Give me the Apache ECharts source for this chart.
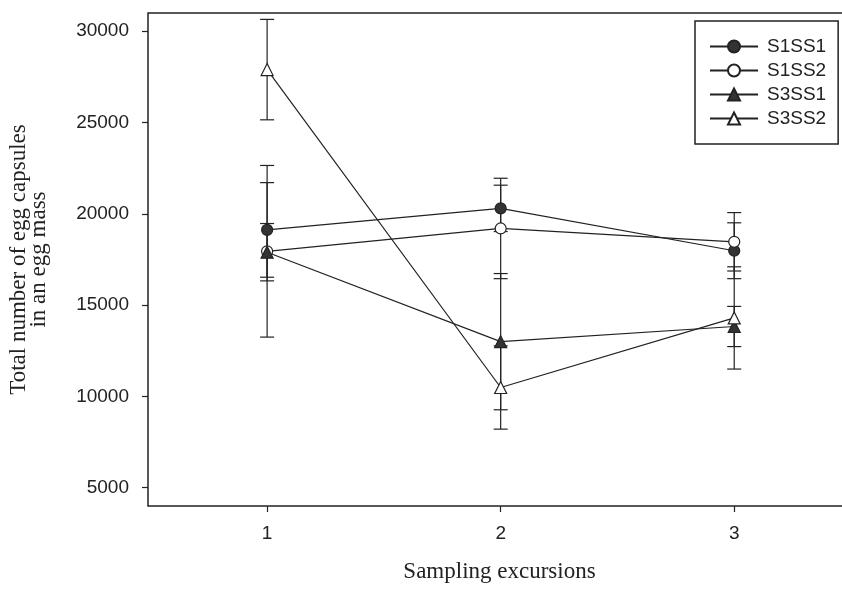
<!DOCTYPE html>
<html><head><meta charset="utf-8">
<script src="https://cdn.jsdelivr.net/npm/echarts@6/dist/echarts.min.js"></script>
<style>html,body{margin:0;padding:0;background:#fff}#c{width:842px;height:589px}</style>
</head><body><div id="c"></div>
<script>
// ---- data ----
const excursions = [1, 2, 3];
const seriesNames = ['S1SS1', 'S1SS2', 'S3SS1', 'S3SS2'];
const s1ss1 = [19120, 20300, 17980];
const s1ss1Err = [2590, 1270, 1530];
const s1ss2 = [17950, 19200, 18470];
const s1ss2Err = [4700, 2750, 1600];
const s3ss1 = [17900, 13000, 13830];
const s3ss1Err = [1570, 3730, 1100];
const s3ss2 = [27900, 10490, 14300];
const s3ss2Err = [2750, 2280, 2800];
const yTickValues = [5000, 10000, 15000, 20000, 25000, 30000];
const xTickValues = [1, 2, 3];

const means = [s1ss1, s1ss2, s3ss1, s3ss2];
const errs = [s1ss1Err, s1ss2Err, s3ss1Err, s3ss2Err];
const symbols = ['circle', 'circle', 'triangle', 'triangle'];
const fills = ['#333', '#fff', '#333', '#fff'];

const INK = '#222';
const SANS = '"Liberation Sans", Arial, sans-serif';
const SERIF = '"Liberation Serif", "Times New Roman", serif';

function errRender(params, api) {
  const x = api.value(0), lo = api.value(1), hi = api.value(2);
  const pHi = api.coord([x, hi]), pLo = api.coord([x, lo]);
  const hw = 7;
  const style = { stroke: INK, lineWidth: 1.2 };
  return {
    type: 'group', children: [
      { type: 'line', shape: { x1: pHi[0], y1: pHi[1], x2: pLo[0], y2: pLo[1] }, style },
      { type: 'line', shape: { x1: pHi[0] - hw, y1: pHi[1], x2: pHi[0] + hw, y2: pHi[1] }, style },
      { type: 'line', shape: { x1: pLo[0] - hw, y1: pLo[1], x2: pLo[0] + hw, y2: pLo[1] }, style }
    ]
  };
}

const series = [];
seriesNames.forEach((name, i) => {
  series.push({
    name: name + ' error',
    type: 'custom',
    renderItem: errRender,
    z: 1,
    silent: true,
    clip: false,
    data: excursions.map((x, j) => [x, means[i][j] - errs[i][j], means[i][j] + errs[i][j]])
  });
});
seriesNames.forEach((name, i) => {
  series.push({
    name: name,
    type: 'line',
    z: 3,
    data: excursions.map((x, j) => [x, means[i][j]]),
    symbol: symbols[i],
    symbolSize: symbols[i] === 'circle' ? 11 : 12,
    showAllSymbol: true,
    lineStyle: { color: INK, width: 1.2 },
    itemStyle: { color: fills[i], borderColor: INK, borderWidth: 1.2 },
    emphasis: { disabled: true },
    animation: false
  });
});

const chart = echarts.init(document.getElementById('c'));
chart.setOption({
  animation: false,
  backgroundColor: '#fff',
  grid: {
    left: 148, top: 13, width: 703, height: 493,
    outerBoundsMode: 'none', containLabel: false,
    show: true, borderColor: INK, borderWidth: 1.5, backgroundColor: 'transparent'
  },
  legend: {
    data: seriesNames,
    orient: 'vertical',
    left: 695, top: 21,
    padding: [16, 12, 16, 14],
    itemWidth: 48, itemHeight: 15, itemGap: 5,
    borderColor: INK, borderWidth: 1.5,
    textStyle: { fontSize: 19, fontFamily: SANS, color: INK, padding: [0, 0, 0, 4] },
    selectedMode: false
  },
  xAxis: {
    type: 'value', min: 0.49, max: 3.5,
    name: 'Sampling excursions', nameLocation: 'middle', nameGap: 54,
    nameTextStyle: { fontSize: 23, fontFamily: SERIF, color: INK },
    axisLine: { show: false },
    axisTick: { show: true, inside: false, length: 6, customValues: xTickValues, lineStyle: { color: INK, width: 1.2 } },
    axisLabel: { customValues: xTickValues, margin: 18, fontSize: 19, fontFamily: SANS, color: INK },
    splitLine: { show: false }
  },
  yAxis: {
    type: 'value', min: 4000, max: 31000,
    name: 'Total number of egg capsules\nin an egg mass', nameLocation: 'middle', nameGap: 99,
    nameTextStyle: { fontSize: 23, lineHeight: 20, fontFamily: SERIF, color: INK, align: 'center' },
    axisLine: { show: false },
    axisTick: { show: true, inside: false, length: 6, customValues: yTickValues, lineStyle: { color: INK, width: 1.2 } },
    axisLabel: { customValues: yTickValues, margin: 19, fontSize: 19, fontFamily: SANS, color: INK,
      formatter: (v) => String(v) },
    splitLine: { show: false }
  },
  series: series
});
</script>
</body></html>
